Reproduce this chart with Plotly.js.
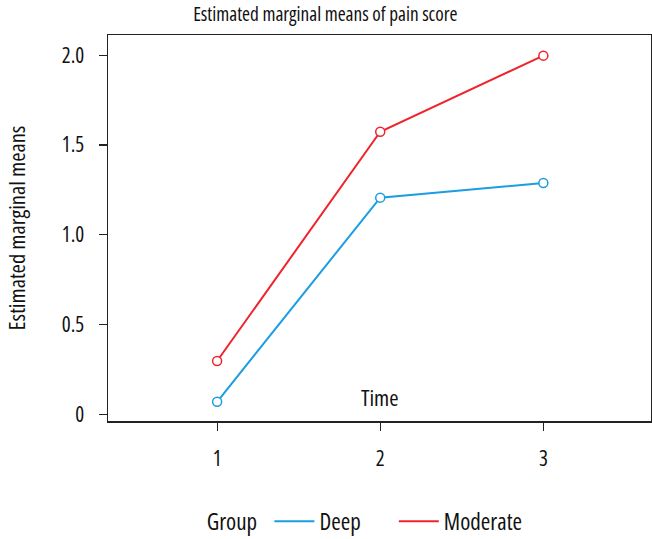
<!DOCTYPE html>
<html>
<head>
<meta charset="utf-8">
<script src="https://cdn.plot.ly/plotly-3.0.1.min.js"></script>
<style>
html,body{margin:0;padding:0;background:#fff;}
#chart{width:652px;height:539px;}
svg text{font-stretch:83% !important;}
</style>
</head>
<body>
<div id="chart"></div>
<script>
const time = [1, 2, 3];
const deep = [0.07, 1.207, 1.289];
const moderate = [0.297, 1.574, 1.998];
const groups = ['Deep', 'Moderate'];
const colors = ['#1b9de2', '#f0232b'];
const yTicks = [0, 0.5, 1.0, 1.5, 2.0];
const yTickLabels = ['0', '0.5', '1.0', '1.5', '2.0'];
const xTicks = [1, 2, 3];
const xTitle = 'Time';

const FONT = '"Open Sans", "Noto Sans", sans-serif';
const series = [deep, moderate];
const legendIds = ['legend', 'legend2'];

const traces = [];
series.forEach((vals, i) => {
  traces.push({x: time, y: vals, name: groups[i], type: 'scatter', mode: 'lines+markers',
    showlegend: false, line: {color: colors[i], width: 2},
    marker: {symbol: 'circle', size: 9, color: '#ffffff', line: {color: colors[i], width: 1.5}}});
});
series.forEach((vals, i) => {
  traces.push({x: [null], y: [null], name: groups[i], type: 'scatter', mode: 'lines',
    showlegend: true, legend: legendIds[i], line: {color: colors[i], width: 2}});
});

const legendBase = {orientation: 'h', xref: 'container', yref: 'container', xanchor: 'left',
  y: 0.033, yanchor: 'middle', font: {size: 23}, itemwidth: 40, bgcolor: 'rgba(0,0,0,0)'};

const layout = {
  width: 652, height: 539,
  margin: {l: 108, r: 1, t: 35, b: 118},
  paper_bgcolor: '#fff', plot_bgcolor: '#fff',
  font: {family: FONT, color: '#111', size: 20},
  title: {text: 'Estimated marginal means of pain score', x: 0.499, xref: 'container', xanchor: 'center',
          y: 0.974, yref: 'container', yanchor: 'middle', font: {size: 19.3, family: FONT, color: '#111'}},
  xaxis: {range: [0.331, 3.66], tickvals: xTicks, ticktext: xTicks.map(String), automargin: false,
          showgrid: false, zeroline: false, showline: true, mirror: true, linecolor: '#222', linewidth: 1.5,
          ticks: 'outside', ticklen: 8, tickcolor: '#222', tickwidth: 1.2, ticklabelstandoff: 10,
          tickfont: {size: 21}},
  yaxis: {range: [-0.037, 2.113], tickvals: yTicks, ticktext: yTickLabels, automargin: false,
          showgrid: false, zeroline: false, showline: true, mirror: true, linecolor: '#222', linewidth: 1.5,
          ticks: 'outside', ticklen: 8, tickcolor: '#222', tickwidth: 1.2, ticklabelstandoff: 10,
          tickfont: {size: 21}, title: {text: 'Estimated marginal means', font: {size: 22.5}, standoff: 30}},
  annotations: [{text: xTitle, xref: 'paper', x: 0.5, xanchor: 'center', yref: 'container',
                 y: 0.0925, yanchor: 'middle', showarrow: false, font: {size: 22.5, family: FONT, color: '#111'}}],
  showlegend: true,
  legend: Object.assign({}, legendBase, {x: 0.314,
           title: {text: 'Group ', side: 'left', font: {size: 23}}}),
  legend2: Object.assign({}, legendBase, {x: 0.604})
};

Plotly.newPlot('chart', traces, layout, {displayModeBar: false, staticPlot: true});
</script>
</body>
</html>
